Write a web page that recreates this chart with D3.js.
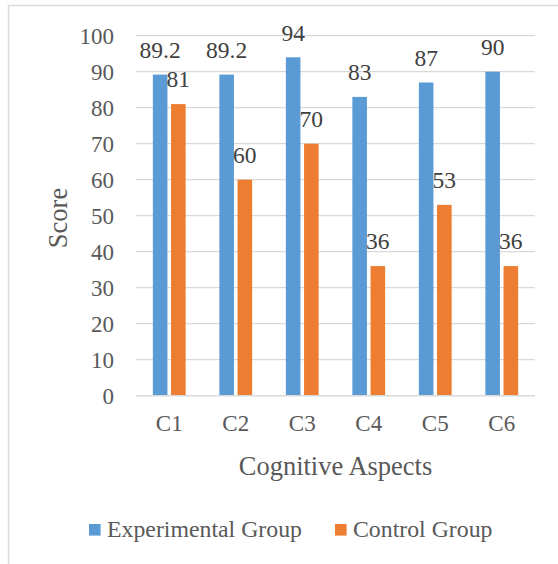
<!DOCTYPE html>
<html><head><meta charset="utf-8">
<script src="https://cdn.jsdelivr.net/npm/d3@7"></script>
<style>html,body{margin:0;padding:0;background:#fff;}svg{display:block;}</style>
</head><body>
<script>
const categories = ["C1","C2","C3","C4","C5","C6"];
const experimental = [89.2, 89.2, 94, 83, 87, 90];
const control = [81, 60, 70, 36, 53, 36];
const yTicks = [0,10,20,30,40,50,60,70,80,90,100];
const seriesNames = ["Experimental Group","Control Group"];
const colors = ["#5B9BD5","#ED7D31"];

const W = 558, H = 564;
const svg = d3.select("body").append("svg").attr("width", W).attr("height", H);
const font = "'Liberation Serif','Times New Roman',serif";
const txt = "#595959";

svg.append("rect").attr("x",8.5).attr("y",5.5).attr("width",700).attr("height",700)
  .attr("fill","none").attr("stroke","#D9D9D9").attr("stroke-width",1.5);

const x0 = d3.scaleBand().domain(categories).range([136,535]);
const y = d3.scaleLinear().domain([0,100]).range([395.7,35.7]);

// gridlines
svg.append("g").selectAll("line").data(yTicks.filter(t=>t>0)).join("line")
  .attr("x1",136).attr("x2",535).attr("y1",d=>y(d)).attr("y2",d=>y(d))
  .attr("stroke","#D9D9D9").attr("stroke-width",1.3);

// y axis labels
const yAxis = d3.axisLeft(y).tickValues(yTicks).tickSize(0).tickPadding(0);
const gy = svg.append("g").attr("transform","translate(114,0)").call(yAxis);
gy.select(".domain").remove();
gy.selectAll("text").attr("font-family",font).attr("font-size",23).attr("fill",txt).attr("dy","0.33em");

const bw = 14.6, gap = 3.6;
const series = [experimental, control];
series.forEach((vals,si)=>{
  const g = svg.append("g");
  const xPos = (c)=> x0(c) + x0.bandwidth()/2 + (si===0 ? -gap/2 - bw : gap/2);
  g.selectAll("rect").data(categories).join("rect")
    .attr("x", c=>xPos(c)).attr("width", bw)
    .attr("y", (c,i)=>y(vals[i])).attr("height",(c,i)=>y(0)-y(vals[i]))
    .attr("fill", colors[si]);
  g.selectAll("text").data(categories).join("text")
    .attr("x", c=>xPos(c)+bw/2).attr("y",(c,i)=>y(vals[i])-16.8)
    .attr("text-anchor","middle").attr("font-family",font).attr("font-size",23.5).attr("fill","#404040")
    .text((c,i)=>vals[i]);
});

// x axis
svg.append("line").attr("x1",136).attr("x2",535).attr("y1",y(0)).attr("y2",y(0))
  .attr("stroke","#D9D9D9").attr("stroke-width",1.5);
const xAxis = d3.axisBottom(x0).tickSize(0).tickPadding(0);
const gx = svg.append("g").attr("transform","translate(0,"+431+")").call(xAxis);
gx.select(".domain").remove();
gx.selectAll("text").attr("font-family",font).attr("font-size",23).attr("fill",txt).attr("dy",0).attr("y",0);

// axis titles
svg.append("text").attr("x",335.5).attr("y",475).attr("text-anchor","middle")
  .attr("font-family",font).attr("font-size",26.5).attr("fill",txt).text("Cognitive Aspects");
svg.append("text").attr("transform","translate(66.5,218) rotate(-90)").attr("text-anchor","middle")
  .attr("font-family",font).attr("font-size",26.5).attr("fill",txt).text("Score");

// legend
const legX = [89, 335];
seriesNames.forEach((n,i)=>{
  svg.append("rect").attr("x",legX[i]).attr("y",524).attr("width",11.6).attr("height",11.6).attr("fill",colors[i]);
  svg.append("text").attr("x",legX[i]+18).attr("y",537).attr("font-family",font).attr("font-size",23.8)
    .attr("fill",txt).text(n);
});
</script>
</body></html>
